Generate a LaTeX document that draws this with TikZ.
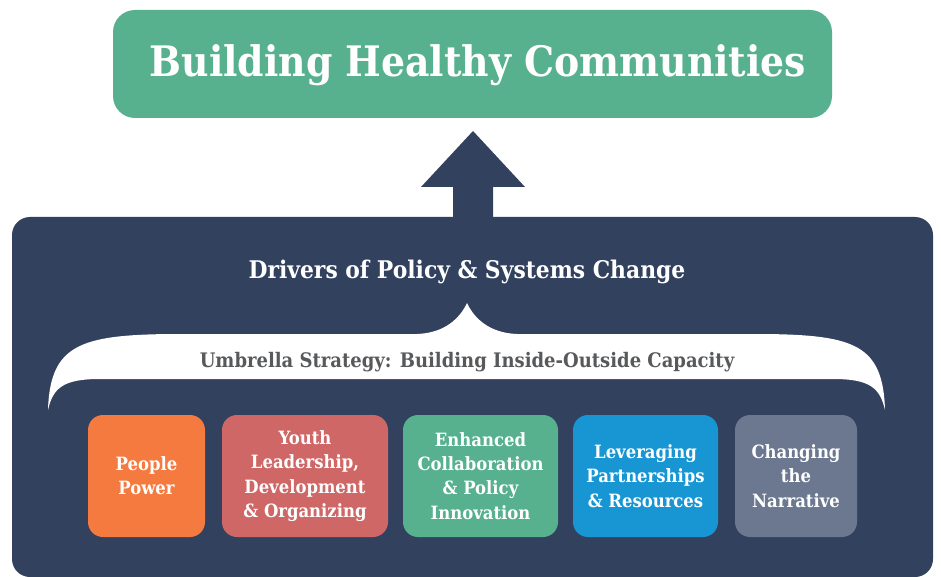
\documentclass[tikz,border=0pt]{standalone}
\usepackage{fontspec}
\setmainfont{DejaVu Serif Condensed}
\definecolor{bhcgreen}{HTML}{57B08E}
\definecolor{navy}{HTML}{32425E}
\definecolor{orangebox}{HTML}{F47A3F}
\definecolor{redbox}{HTML}{D06767}
\definecolor{bluebox}{HTML}{1896D3}
\definecolor{graybox}{HTML}{6B7890}
\definecolor{umbtext}{HTML}{58595B}
\tikzset{
  driver/.style={rounded corners=15pt, minimum height=122pt, inner sep=0pt, text=white, align=center,
    font=\fontsize{18.3}{24.3}\selectfont\bfseries},
}
\begin{document}
\begin{tikzpicture}[x=1pt,y=-1pt]
\useasboundingbox (0,0) rectangle (941,577);
\clip (0,0) rectangle (941,577);
% top box
\node[fill=bhcgreen, rounded corners=22pt, minimum width=719pt, minimum height=108pt, inner sep=0pt] (top) at (472.5,64) {};
\node[anchor=base, text=white, font=\fontsize{42}{42}\selectfont\bfseries, inner sep=0pt] (title) at (478,77) {Building Healthy Communities};
% panel
\node[fill=navy, rounded corners=18pt, minimum width=921pt, minimum height=360pt, inner sep=0pt] (panel) at (472.5,397) {};
% block arrow
\coordinate (tip) at (473,131);
\fill[navy] (453,218) -- (453,187) -- (421,187) -- (tip) -- (525,187) -- (493,187) -- (493,218) -- cycle;
% heading
\node[anchor=base, text=white, font=\fontsize{24.3}{24}\selectfont\bfseries, inner sep=0pt] (drivers) at (467,278) {Drivers of Policy \& Systems Change};
% umbrella
\fill[white] (48,410) .. controls (50,345) and (80,335) .. (170,334) -- (417,334)
  .. controls (445,333) and (460,318) .. (467,303)
  .. controls (474,318) and (489,333) .. (517,334) -- (765,334)
  .. controls (855,335) and (883,345) .. (885,410)
  .. controls (880,388) and (870,379) .. (833,379) -- (100,379)
  .. controls (63,379) and (53,388) .. (48,410) -- cycle;
\node[anchor=base, text=umbtext, font=\fontsize{20}{20}\selectfont\bfseries, inner sep=0pt] (umb) at (467,367) {Umbrella Strategy: Building Inside-Outside Capacity};
% driver boxes
\node[driver, fill=orangebox, minimum width=117pt] (b1) at (146.5,476) {People\\Power};
\node[driver, fill=redbox, minimum width=166pt] (b2) at (305,476) {Youth\\Leadership,\\Development\\\& Organizing};
\node[driver, fill=bhcgreen, minimum width=155pt] (b3) at (480.5,476) {Enhanced\\Collaboration\\\& Policy\\Innovation};
\node[driver, fill=bluebox, minimum width=145pt] (b4) at (645.5,476) {Leveraging\\Partnerships\\\& Resources};
\node[driver, fill=graybox, minimum width=122pt] (b5) at (796,476) {Changing\\the\\Narrative};
\end{tikzpicture}
\end{document}
